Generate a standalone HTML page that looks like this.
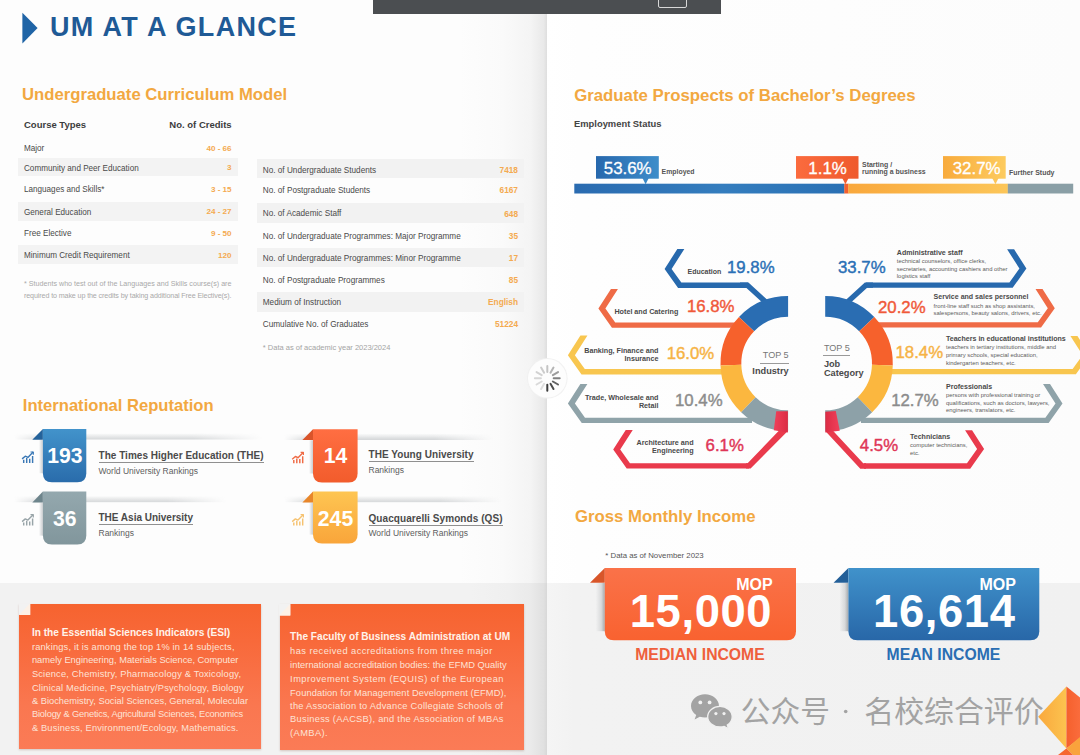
<!DOCTYPE html>
<html><head><meta charset="utf-8"><title>UM at a glance</title>
<style>
html,body{margin:0;padding:0;}
body{width:1080px;height:755px;overflow:hidden;position:relative;background:#fbfbfb;font-family:"Liberation Sans",sans-serif;}
.b{position:absolute;}
.t{position:absolute;white-space:nowrap;line-height:1;}
svg.s{position:absolute;left:0;top:0;}
#bg,#fg{position:absolute;left:0;top:0;width:1080px;height:755px;}
</style></head>
<body>
<div id="bg">
<div class="b" style="left:0.00px;top:0.00px;width:546.60px;height:755.00px;background:linear-gradient(to right,#fdfdfd 0%,#fdfdfd 84%,#fafafa 92%,#f4f4f4 97%,#e9e9e9 99.4%,#dedede 100%);"></div>
<div class="b" style="left:546.60px;top:0.00px;width:533.40px;height:755.00px;background:linear-gradient(to right,#ffffff 0%,#fefefe 6%,#fcfcfc 100%);"></div>
<div class="b" style="left:0.00px;top:582.70px;width:546.60px;height:172.30px;background:linear-gradient(to right,#f2f2f2 0%,#f2f2f2 86%,#efefef 93%,#eaeaea 97%,#e0e0e0 99.4%,#d8d8d8 100%);"></div>
<div class="b" style="left:546.60px;top:582.90px;width:533.40px;height:172.10px;background:linear-gradient(to right,#f5f5f5 0%,#f2f2f2 5%,#f1f1f1 100%);"></div>
<div class="b" style="left:373.00px;top:0.00px;width:348.00px;height:14.00px;background:#4b4e51;"></div>
<div class="b" style="left:657.50px;top:-2.00px;width:29.00px;height:9.50px;background:transparent;border:1px solid #d8d8d8;border-radius:2px;box-sizing:border-box;"></div>
<div class="b" style="left:18.00px;top:158.30px;width:220.00px;height:18.10px;background:#f3f3f3;"></div>
<div class="b" style="left:18.00px;top:202.00px;width:220.00px;height:19.00px;background:#f3f3f3;"></div>
<div class="b" style="left:18.00px;top:244.80px;width:220.00px;height:18.90px;background:#f3f3f3;"></div>
<div class="b" style="left:256.70px;top:158.90px;width:267.50px;height:19.10px;background:#f2f2f2;"></div>
<div class="b" style="left:256.70px;top:203.40px;width:267.50px;height:19.50px;background:#f2f2f2;"></div>
<div class="b" style="left:256.70px;top:248.00px;width:267.50px;height:19.20px;background:#f2f2f2;"></div>
<div class="b" style="left:256.70px;top:292.30px;width:267.50px;height:19.80px;background:#f2f2f2;"></div>
<div class="b" style="left:19.4px;top:603.8px;width:242px;height:145.6px;background:linear-gradient(#f6632f 0%,#f8693a 25%,#fa7750 70%,#fb7b56 100%);box-shadow:0 1px 2px rgba(120,60,40,.25);"></div>
<div class="b" style="left:279.5px;top:604.4px;width:244.3px;height:146px;background:linear-gradient(#f6632f 0%,#f8693a 25%,#fa7750 70%,#fb7b56 100%);box-shadow:0 1px 2px rgba(120,60,40,.25);"></div>
<div class="b" style="left:760.30px;top:362.80px;width:28.30px;height:0.90px;background:#9a9a9a;"></div>
<div class="b" style="left:823.30px;top:355.20px;width:27.20px;height:0.90px;background:#9a9a9a;"></div>
</div>
<svg class="s" width="1080" height="755" viewBox="0 0 1080 755">
<defs>
<linearGradient id="gBlue" x1="0" y1="0" x2="0" y2="1"><stop offset="0" stop-color="#4293cb"/><stop offset="1" stop-color="#2a6cab"/></linearGradient>
<linearGradient id="gGrey" x1="0" y1="0" x2="0" y2="1"><stop offset="0" stop-color="#94a8ae"/><stop offset="1" stop-color="#81969c"/></linearGradient>
<linearGradient id="gOrg" x1="0" y1="0" x2="0" y2="1"><stop offset="0" stop-color="#ff6e42"/><stop offset="1" stop-color="#f25c2c"/></linearGradient>
<linearGradient id="gYel" x1="0" y1="0" x2="0" y2="1"><stop offset="0" stop-color="#fec552"/><stop offset="1" stop-color="#f9a53a"/></linearGradient>
<linearGradient id="gShV" x1="0" y1="0" x2="0" y2="1"><stop offset="0" stop-color="#9aa0a4" stop-opacity="0"/><stop offset="1" stop-color="#9aa0a4" stop-opacity="0.42"/></linearGradient>
<linearGradient id="gShH" x1="0" y1="0" x2="1" y2="0"><stop offset="0" stop-color="#fff" stop-opacity="0"/><stop offset="0.12" stop-color="#fff"/><stop offset="0.72" stop-color="#fff"/><stop offset="1" stop-color="#fff" stop-opacity="0"/></linearGradient>
<mask id="mSh" maskContentUnits="objectBoundingBox"><rect x="0" y="0" width="1" height="1" fill="url(#gShH)"/></mask>
<linearGradient id="gSide" x1="0" y1="0" x2="1" y2="0"><stop offset="0" stop-color="#8a9096" stop-opacity="0"/><stop offset="1" stop-color="#8a9096" stop-opacity="0.45"/></linearGradient>

<linearGradient id="eBlue" x1="0" x2="1"><stop offset="0" stop-color="#2768ad"/><stop offset="1" stop-color="#3e8dca"/></linearGradient>
<linearGradient id="eOrg" x1="0" x2="1"><stop offset="0" stop-color="#fb6b3e"/><stop offset="1" stop-color="#ef5a2d"/></linearGradient>
<linearGradient id="eYel" x1="0" x2="1"><stop offset="0" stop-color="#f8ab3d"/><stop offset="1" stop-color="#fdcb5e"/></linearGradient>
<linearGradient id="barBlue" x1="0" x2="1"><stop offset="0" stop-color="#2a6bb0"/><stop offset="0.55" stop-color="#347dbe"/><stop offset="1" stop-color="#2a70b4"/></linearGradient>
<linearGradient id="barYel" x1="0" x2="1"><stop offset="0" stop-color="#f9a83c"/><stop offset="1" stop-color="#fcc659"/></linearGradient>
<linearGradient id="gRed0" x1="0" x2="1"><stop offset="0" stop-color="#f0405a"/><stop offset="1" stop-color="#dc2c45"/></linearGradient><linearGradient id="gRed2" x1="1" x2="0"><stop offset="0" stop-color="#f0405a"/><stop offset="1" stop-color="#dc2c45"/></linearGradient>
<linearGradient id="gSide2" x1="0" y1="0" x2="1" y2="0"><stop offset="0" stop-color="#80868c" stop-opacity="0"/><stop offset="0.6" stop-color="#80868c" stop-opacity="0.22"/><stop offset="1" stop-color="#70767c" stop-opacity="0.6"/></linearGradient>
<linearGradient id="iOrg" x1="0" y1="0" x2="0" y2="1"><stop offset="0" stop-color="#fa7249"/><stop offset="1" stop-color="#f96230"/></linearGradient>
<linearGradient id="iBlue" x1="0" y1="0" x2="0" y2="1"><stop offset="0" stop-color="#4092cb"/><stop offset="1" stop-color="#2867a8"/></linearGradient>

<linearGradient id="dYel" x1="0" x2="1"><stop offset="0" stop-color="#f9a83d"/><stop offset="1" stop-color="#fcc34f"/></linearGradient>
<linearGradient id="dOrg" x1="0" x2="1"><stop offset="0" stop-color="#f5602d"/><stop offset="1" stop-color="#fa6c3c"/></linearGradient>
</defs>
<polygon points="22.4,12.8 22.4,43.4 37.6,28.1" fill="#1f64a6"/>
<rect x="14" y="433.09999999999997" width="248" height="6.6" fill="url(#gShV)" mask="url(#mSh)"/>
<rect x="38.9" y="439.9" width="4" height="33.3" fill="url(#gSide)"/>
<polygon points="32.3,439.7 42.9,428.9 42.9,439.7" fill="#24629a"/>
<path d="M42.9,428.9H86.3V473.2Q86.3,482.2 77.3,482.2H51.9Q42.9,482.2 42.9,473.2Z" fill="url(#gBlue)"/>
<g transform="translate(21.5,451.29999999999995)" fill="none" stroke="#3a78b6" stroke-width="1.45" stroke-linecap="butt" stroke-linejoin="round"><path d="M2.2,11.6V8.4M5.2,11.6V6.8M8.2,11.6V7.4M11.1,11.6V4.6"/><path d="M0.6,7.6L3.8,4.9L6.4,6.1L11.6,0.8" stroke-width="1.4"/><path d="M9.0,0.7H11.8V3.4" stroke-width="1.2"/></g>
<rect x="14" y="495.8" width="212" height="6.6" fill="url(#gShV)" mask="url(#mSh)"/>
<rect x="38.9" y="502.6" width="4" height="33.0" fill="url(#gSide)"/>
<polygon points="32.3,502.40000000000003 42.9,491.6 42.9,502.40000000000003" fill="#6e858c"/>
<path d="M42.9,491.6H86.3V535.6Q86.3,544.6 77.3,544.6H51.9Q42.9,544.6 42.9,535.6Z" fill="url(#gGrey)"/>
<g transform="translate(21.5,514.0)" fill="none" stroke="#98a4a8" stroke-width="1.45" stroke-linecap="butt" stroke-linejoin="round"><path d="M2.2,11.6V8.4M5.2,11.6V6.8M8.2,11.6V7.4M11.1,11.6V4.6"/><path d="M0.6,7.6L3.8,4.9L6.4,6.1L11.6,0.8" stroke-width="1.4"/><path d="M9.0,0.7H11.8V3.4" stroke-width="1.2"/></g>
<rect x="284" y="433.4" width="209" height="6.6" fill="url(#gShV)" mask="url(#mSh)"/>
<rect x="309.0" y="440.2" width="4" height="33.3" fill="url(#gSide)"/>
<polygon points="302.4,440.0 313.0,429.2 313.0,440.0" fill="#d9542a"/>
<path d="M313.0,429.2H357.6V473.5Q357.6,482.5 348.6,482.5H322.0Q313.0,482.5 313.0,473.5Z" fill="url(#gOrg)"/>
<g transform="translate(291.6,451.59999999999997)" fill="none" stroke="#ef6a44" stroke-width="1.45" stroke-linecap="butt" stroke-linejoin="round"><path d="M2.2,11.6V8.4M5.2,11.6V6.8M8.2,11.6V7.4M11.1,11.6V4.6"/><path d="M0.6,7.6L3.8,4.9L6.4,6.1L11.6,0.8" stroke-width="1.4"/><path d="M9.0,0.7H11.8V3.4" stroke-width="1.2"/></g>
<rect x="284" y="495.8" width="217" height="6.6" fill="url(#gShV)" mask="url(#mSh)"/>
<rect x="309.0" y="502.6" width="4" height="32.0" fill="url(#gSide)"/>
<polygon points="302.4,502.40000000000003 313.0,491.6 313.0,502.40000000000003" fill="#e8862a"/>
<path d="M313.0,491.6H357.6V534.6Q357.6,543.6 348.6,543.6H322.0Q313.0,543.6 313.0,534.6Z" fill="url(#gYel)"/>
<g transform="translate(291.6,514.0)" fill="none" stroke="#f6c270" stroke-width="1.45" stroke-linecap="butt" stroke-linejoin="round"><path d="M2.2,11.6V8.4M5.2,11.6V6.8M8.2,11.6V7.4M11.1,11.6V4.6"/><path d="M0.6,7.6L3.8,4.9L6.4,6.1L11.6,0.8" stroke-width="1.4"/><path d="M9.0,0.7H11.8V3.4" stroke-width="1.2"/></g>
<rect x="18.9" y="603.3" width="11.3" height="11.6" fill="#f2f2f2"/>
<polygon points="30.2,603.3 30.2,614.9 18.9,614.9" fill="#fdf1e6"/>
<rect x="279.0" y="603.9" width="11.3" height="11.6" fill="#f2f2f2"/>
<polygon points="290.3,603.9 290.3,615.5 279.0,615.5" fill="#fdf1e6"/>
<rect x="574.3" y="183.7" width="270.2" height="9.8" fill="url(#barBlue)"/>
<rect x="844.3" y="183.7" width="4.2" height="9.8" fill="#f2602f"/>
<rect x="848.3" y="183.7" width="159.6" height="9.8" fill="url(#barYel)"/>
<rect x="1007.8" y="183.7" width="65.4" height="9.8" fill="#8a9fa6"/>
<polygon points="642.4,178 648.8000000000001,178 645.6,184.2" fill="#3a88c6"/>
<rect x="596" y="156.1" width="62.8" height="22.6" fill="url(#eBlue)"/>
<polygon points="842.1999999999999,178 848.6,178 845.4,184.2" fill="#f05c2e"/>
<rect x="796" y="156.1" width="62.5" height="22.6" fill="url(#eOrg)"/>
<polygon points="992.1999999999999,178 998.6,178 995.4,184.2" fill="#fcc558"/>
<rect x="943" y="156.1" width="62.7" height="22.6" fill="url(#eYel)"/>
<polygon points="677.34,249.00 664.60,268.90 678.09,287.90 748.00,287.90 748.00,282.60 681.33,282.60 671.60,268.90 684.34,249.00" fill="#2769ad"/>
<path d="M740,285.25L747.4,285.25L765.5,301.8" fill="none" stroke="#2769ad" stroke-width="5.3" stroke-linejoin="miter"/>
<polygon points="610.94,289.00 598.40,308.60 611.96,327.70 740.00,327.70 740.00,322.40 615.20,322.40 605.40,308.60 617.94,289.00" fill="#ef6b46"/>
<polygon points="580.44,335.60 567.90,355.20 581.53,374.40 724.00,374.40 724.00,369.10 584.77,369.10 574.90,355.20 587.44,335.60" fill="#f8c64f"/>
<polygon points="580.38,384.00 567.90,403.50 581.75,423.00 752.00,423.00 752.00,417.70 584.98,417.70 574.90,403.50 587.38,384.00" fill="#8fa3a9"/>
<polygon points="625.74,429.90 613.20,449.50 626.73,468.55 749.00,468.55 749.00,463.25 629.96,463.25 620.20,449.50 632.74,429.90" fill="#e93a4c"/>
<polygon points="747.6,463.25 778.6,431.0 787.8,431.0 750.6,468.55 746,468.55 746,463.25" fill="#e93a4c"/>
<polygon points="1014.11,249.30 1026.40,268.50 1012.66,287.85 866.00,287.85 866.00,282.55 1009.42,282.55 1019.40,268.50 1007.11,249.30" fill="#2769ad"/>
<path d="M873,285.2L865.9,285.2L847.8,301.8" fill="none" stroke="#2769ad" stroke-width="5.3" stroke-linejoin="miter"/>
<polygon points="1042.51,289.00 1054.80,308.20 1041.06,327.55 873.00,327.55 873.00,322.25 1037.82,322.25 1047.80,308.20 1035.51,289.00" fill="#ef6b46"/>
<polygon points="1077.44,336.00 1089.60,355.00 1075.86,374.35 889.00,374.35 889.00,369.05 1072.62,369.05 1082.60,355.00 1070.44,336.00" fill="#f8c64f"/>
<polygon points="1050.02,384.00 1062.50,403.50 1048.62,423.05 861.00,423.05 861.00,417.75 1045.38,417.75 1055.50,403.50 1043.02,384.00" fill="#8fa3a9"/>
<polygon points="972.07,430.30 984.10,449.10 970.22,468.65 864.00,468.65 864.00,463.35 966.98,463.35 977.10,449.10 965.07,430.30" fill="#e93a4c"/>
<polygon points="863.2,463.35 833.2,431.0 825.3,431.0 860.3,468.65 866,468.65 866,463.35" fill="#e93a4c"/>
<path d="M788.10,295.90A67.6,67.6 0 0 0 738.98,317.05L754.10,331.34A46.8,46.8 0 0 1 788.10,316.70Z" fill="#2a6db2"/>
<path d="M738.98,317.05A67.6,67.6 0 0 0 720.53,365.39L741.32,364.81A46.8,46.8 0 0 1 754.10,331.34Z" fill="#f6612c"/>
<path d="M720.53,365.39A67.6,67.6 0 0 0 741.14,412.13L755.59,397.17A46.8,46.8 0 0 1 741.32,364.81Z" fill="#fbb73f"/>
<path d="M741.14,412.13A67.6,67.6 0 0 0 788.10,431.10L788.10,410.30A46.8,46.8 0 0 1 755.59,397.17Z" fill="#8da1a8"/>
<polygon points="776.2,411.2 787.9,411.2 787.9,432.6 773.8,430.3" fill="url(#gRed0)"/>
<path d="M825.20,295.90A67.6,67.6 0 0 1 874.32,317.05L859.20,331.34A46.8,46.8 0 0 0 825.20,316.70Z" fill="#2a6db2"/>
<path d="M874.32,317.05A67.6,67.6 0 0 1 892.77,365.39L871.98,364.81A46.8,46.8 0 0 0 859.20,331.34Z" fill="#f6612c"/>
<path d="M892.77,365.39A67.6,67.6 0 0 1 872.16,412.13L857.71,397.17A46.8,46.8 0 0 0 871.98,364.81Z" fill="#fbb73f"/>
<path d="M872.16,412.13A67.6,67.6 0 0 1 825.20,431.10L825.20,410.30A46.8,46.8 0 0 0 857.71,397.17Z" fill="#8da1a8"/>
<polygon points="825.3,411.8 835.8,411.0 839.8,430.7 825.3,432.6" fill="url(#gRed2)"/>
<rect x="595.8" y="583" width="9" height="48.2" fill="url(#gSide2)"/>
<polygon points="590.0,582.8 604.8,568 604.8,582.8" fill="#d8562a"/>
<path d="M604.8,568H796.0V631.2Q796.0,640.2 787.0,640.2H613.8Q604.8,640.2 604.8,631.2Z" fill="url(#iOrg)"/>
<rect x="839.4" y="583" width="9" height="48.2" fill="url(#gSide2)"/>
<polygon points="833.6,582.8 848.4,568 848.4,582.8" fill="#235f98"/>
<path d="M848.4,568H1039.3V631.2Q1039.3,640.2 1030.3,640.2H857.4Q848.4,640.2 848.4,631.2Z" fill="url(#iBlue)"/>
<circle cx="547.3" cy="378.3" r="20.3" fill="#f1f1f1"/><circle cx="547.3" cy="378.3" r="19.3" fill="#fdfdfd"/>
<line x1="547.3" y1="371.90000000000003" x2="547.3" y2="365.90000000000003" stroke="#3c3c3c" stroke-width="2.0" stroke-linecap="round" transform="rotate(180 547.3 378.3)"/>
<line x1="547.3" y1="371.90000000000003" x2="547.3" y2="365.90000000000003" stroke="#4c4c4c" stroke-width="2.0" stroke-linecap="round" transform="rotate(150 547.3 378.3)"/>
<line x1="547.3" y1="371.90000000000003" x2="547.3" y2="365.90000000000003" stroke="#626262" stroke-width="2.0" stroke-linecap="round" transform="rotate(120 547.3 378.3)"/>
<line x1="547.3" y1="371.90000000000003" x2="547.3" y2="365.90000000000003" stroke="#808080" stroke-width="2.0" stroke-linecap="round" transform="rotate(90 547.3 378.3)"/>
<line x1="547.3" y1="371.90000000000003" x2="547.3" y2="365.90000000000003" stroke="#9c9c9c" stroke-width="2.0" stroke-linecap="round" transform="rotate(60 547.3 378.3)"/>
<line x1="547.3" y1="371.90000000000003" x2="547.3" y2="365.90000000000003" stroke="#b4b4b4" stroke-width="2.0" stroke-linecap="round" transform="rotate(30 547.3 378.3)"/>
<line x1="547.3" y1="371.90000000000003" x2="547.3" y2="365.90000000000003" stroke="#c4c4c4" stroke-width="2.0" stroke-linecap="round" transform="rotate(0 547.3 378.3)"/>
<line x1="547.3" y1="371.90000000000003" x2="547.3" y2="365.90000000000003" stroke="#cccccc" stroke-width="2.0" stroke-linecap="round" transform="rotate(-30 547.3 378.3)"/>
<line x1="547.3" y1="371.90000000000003" x2="547.3" y2="365.90000000000003" stroke="#d2d2d2" stroke-width="2.0" stroke-linecap="round" transform="rotate(-60 547.3 378.3)"/>
<line x1="547.3" y1="371.90000000000003" x2="547.3" y2="365.90000000000003" stroke="#d6d6d6" stroke-width="2.0" stroke-linecap="round" transform="rotate(-90 547.3 378.3)"/>
<line x1="547.3" y1="371.90000000000003" x2="547.3" y2="365.90000000000003" stroke="#dadada" stroke-width="2.0" stroke-linecap="round" transform="rotate(-120 547.3 378.3)"/>
<line x1="547.3" y1="371.90000000000003" x2="547.3" y2="365.90000000000003" stroke="#dedede" stroke-width="2.0" stroke-linecap="round" transform="rotate(-150 547.3 378.3)"/>
<polygon points="1038.2,716.8 1066.4,686.6 1066.4,748.5" fill="url(#dYel)"/>
<polygon points="1066.4,686.6 1080,697.5 1080,738 1066.4,748.5" fill="url(#dOrg)"/>
<polygon points="1066.4,748.5 1080,737 1080,755 1073,755" fill="#f9a33c"/>
<polygon points="1066.4,748.5 1073,755 1058,755" fill="#f6672f"/>
<text x="740.8" y="722.4" font-size="29.7" fill="#a3a3a3" textLength="89.1" lengthAdjust="spacingAndGlyphs" style="font-family:'Liberation Sans','Noto Sans CJK SC',sans-serif;">公众号</text>
<circle cx="845.7" cy="711.5" r="1.8" fill="#a3a3a3"/>
<text x="864.3" y="722.4" font-size="29.7" fill="#a3a3a3" textLength="179.3" lengthAdjust="spacingAndGlyphs" style="font-family:'Liberation Sans','Noto Sans CJK SC',sans-serif;">名校综合评价</text>
<path d="M705,694.3c-7.8,0 -14,5.2 -14,11.7c0,3.7 2,6.9 5.2,9.1l-1.6,4.4l5.2,-2.7c1.6,0.5 3.3,0.8 5.2,0.8c7.8,0 14,-5.2 14,-11.6c0,-6.5 -6.2,-11.7 -14,-11.7z" fill="#a3a3a3"/>
<circle cx="700.3" cy="702.4" r="1.9" fill="#f1f1f1"/><circle cx="709.6" cy="702.4" r="1.9" fill="#f1f1f1"/>
<path d="M720,706.4c-6.8,0 -12.3,4.6 -12.3,10.3c0,5.7 5.5,10.3 12.3,10.3c1.5,0 2.9,-0.2 4.2,-0.6l4.4,2.4l-1.3,-3.8c2.9,-1.9 4.9,-4.9 4.9,-8.3c0,-5.7 -5.5,-10.3 -12.2,-10.3z" fill="#a3a3a3" stroke="#f1f1f1" stroke-width="1.3"/>
<circle cx="715.9" cy="713.6" r="1.6" fill="#f1f1f1"/><circle cx="724" cy="713.6" r="1.6" fill="#f1f1f1"/>
</svg>
<div id="fg">
<div class="t" style="top:14.40px;font-size:27px;color:#1f5a96;font-weight:bold;letter-spacing:1.32px;left:50.00px;">UM AT A GLANCE</div>
<div class="t" style="top:87.25px;font-size:16.7px;color:#f2a841;font-weight:bold;left:22.00px;">Undergraduate Curriculum Model</div>
<div class="t" style="top:120.05px;font-size:9.5px;color:#3c3c3c;font-weight:bold;left:24.00px;">Course Types</div>
<div class="t" style="top:120.05px;font-size:9.5px;color:#3c3c3c;font-weight:bold;right:848.40px;">No. of Credits</div>
<div class="t" style="top:144.93px;font-size:8.15px;color:#4a4a4a;left:24.00px;">Major</div>
<div class="t" style="top:144.55px;font-size:8.1px;color:#f4aa50;font-weight:bold;right:848.40px;">40 - 66</div>
<div class="t" style="top:164.53px;font-size:8.15px;color:#4a4a4a;left:24.00px;">Community and Peer Education</div>
<div class="t" style="top:164.15px;font-size:8.1px;color:#f4aa50;font-weight:bold;right:848.40px;">3</div>
<div class="t" style="top:186.12px;font-size:8.15px;color:#4a4a4a;left:24.00px;">Languages and Skills*</div>
<div class="t" style="top:185.75px;font-size:8.1px;color:#f4aa50;font-weight:bold;right:848.40px;">3 - 15</div>
<div class="t" style="top:208.53px;font-size:8.15px;color:#4a4a4a;left:24.00px;">General Education</div>
<div class="t" style="top:208.15px;font-size:8.1px;color:#f4aa50;font-weight:bold;right:848.40px;">24 - 27</div>
<div class="t" style="top:230.33px;font-size:8.15px;color:#4a4a4a;left:24.00px;">Free Elective</div>
<div class="t" style="top:229.95px;font-size:8.1px;color:#f4aa50;font-weight:bold;right:848.40px;">9 - 50</div>
<div class="t" style="top:252.23px;font-size:8.15px;color:#4a4a4a;left:24.00px;">Minimum Credit Requirement</div>
<div class="t" style="top:251.85px;font-size:8.1px;color:#f4aa50;font-weight:bold;right:848.40px;">120</div>
<div class="t" style="top:281.32px;font-size:7.15px;color:#a9a9a9;letter-spacing:0.004px;left:24.00px;">* Students who test out of the Languages and Skills course(s) are</div>
<div class="t" style="top:292.53px;font-size:7.15px;color:#a9a9a9;letter-spacing:-0.117px;left:24.00px;">required to make up the credits by taking additional Free Elective(s).</div>
<div class="t" style="top:166.60px;font-size:8.2px;color:#4a4a4a;left:262.80px;">No. of Undergraduate Students</div>
<div class="t" style="top:165.95px;font-size:8.3px;color:#f4aa50;font-weight:bold;right:562.00px;">7418</div>
<div class="t" style="top:186.50px;font-size:8.2px;color:#4a4a4a;left:262.80px;">No. of Postgraduate Students</div>
<div class="t" style="top:185.85px;font-size:8.3px;color:#f4aa50;font-weight:bold;right:562.00px;">6167</div>
<div class="t" style="top:210.30px;font-size:8.2px;color:#4a4a4a;left:262.80px;">No. of Academic Staff</div>
<div class="t" style="top:209.65px;font-size:8.3px;color:#f4aa50;font-weight:bold;right:562.00px;">648</div>
<div class="t" style="top:232.70px;font-size:8.2px;color:#4a4a4a;left:262.80px;">No. of Undergraduate Programmes: Major Programme</div>
<div class="t" style="top:232.05px;font-size:8.3px;color:#f4aa50;font-weight:bold;right:562.00px;">35</div>
<div class="t" style="top:254.80px;font-size:8.2px;color:#4a4a4a;left:262.80px;">No. of Undergraduate Programmes: Minor Programme</div>
<div class="t" style="top:254.15px;font-size:8.3px;color:#f4aa50;font-weight:bold;right:562.00px;">17</div>
<div class="t" style="top:276.90px;font-size:8.2px;color:#4a4a4a;left:262.80px;">No. of Postgraduate Programmes</div>
<div class="t" style="top:276.25px;font-size:8.3px;color:#f4aa50;font-weight:bold;right:562.00px;">85</div>
<div class="t" style="top:298.90px;font-size:8.2px;color:#4a4a4a;left:262.80px;">Medium of Instruction</div>
<div class="t" style="top:298.25px;font-size:8.3px;color:#f4aa50;font-weight:bold;right:562.00px;">English</div>
<div class="t" style="top:321.10px;font-size:8.2px;color:#4a4a4a;left:262.80px;">Cumulative No. of Graduates</div>
<div class="t" style="top:320.45px;font-size:8.3px;color:#f4aa50;font-weight:bold;right:562.00px;">51224</div>
<div class="t" style="top:343.75px;font-size:7.5px;color:#a4a4a4;left:262.80px;">* Data as of academic year 2023/2024</div>
<div class="t" style="top:397.60px;font-size:16.6px;color:#f2a841;font-weight:bold;left:22.80px;">International Reputation</div>
<div class="t" style="top:445.10px;font-size:21.2px;color:#fff;font-weight:bold;left:-235.20px;width:600px;text-align:center;">193</div>
<div class="t" style="top:451.20px;font-size:10.0px;color:#4a4a4a;font-weight:bold;letter-spacing:0.023px;left:98.50px;border-bottom:1px solid #909090;padding-bottom:1.2px;">The Times Higher Education (THE)</div>
<div class="t" style="top:466.85px;font-size:8.5px;color:#5e5e5e;left:98.50px;">World University Rankings</div>
<div class="t" style="top:507.80px;font-size:21.2px;color:#fff;font-weight:bold;left:-235.20px;width:600px;text-align:center;">36</div>
<div class="t" style="top:513.20px;font-size:10.0px;color:#4a4a4a;font-weight:bold;letter-spacing:-0.009px;left:98.50px;border-bottom:1px solid #909090;padding-bottom:1.2px;">THE Asia University</div>
<div class="t" style="top:528.75px;font-size:8.5px;color:#5e5e5e;left:98.50px;">Rankings</div>
<div class="t" style="top:445.40px;font-size:21.2px;color:#fff;font-weight:bold;left:35.50px;width:600px;text-align:center;">14</div>
<div class="t" style="top:449.70px;font-size:10.0px;color:#4a4a4a;font-weight:bold;letter-spacing:0.048px;left:368.50px;border-bottom:1px solid #909090;padding-bottom:1.2px;">THE Young University</div>
<div class="t" style="top:465.55px;font-size:8.5px;color:#5e5e5e;left:368.50px;">Rankings</div>
<div class="t" style="top:507.80px;font-size:21.2px;color:#fff;font-weight:bold;left:35.50px;width:600px;text-align:center;">245</div>
<div class="t" style="top:514.00px;font-size:10.0px;color:#4a4a4a;font-weight:bold;letter-spacing:0.073px;left:368.50px;border-bottom:1px solid #909090;padding-bottom:1.2px;">Quacquarelli Symonds (QS)</div>
<div class="t" style="top:529.45px;font-size:8.5px;color:#5e5e5e;left:368.50px;">World University Rankings</div>
<div class="t" style="top:628.42px;font-size:10.15px;color:#fff3ea;font-weight:bold;letter-spacing:0.006px;left:31.90px;">In the Essential Sciences Indicators (ESI)</div>
<div class="t" style="top:642.55px;font-size:9.3px;color:#fde3d6;letter-spacing:0.177px;left:31.90px;">rankings, it is among the top 1% in 14 subjects,</div>
<div class="t" style="top:656.45px;font-size:9.3px;color:#fde3d6;letter-spacing:-0.004px;left:31.90px;">namely Engineering, Materials Science, Computer</div>
<div class="t" style="top:670.15px;font-size:9.3px;color:#fde3d6;letter-spacing:0.192px;left:31.90px;">Science, Chemistry, Pharmacology &amp; Toxicology,</div>
<div class="t" style="top:683.75px;font-size:9.3px;color:#fde3d6;letter-spacing:0.184px;left:31.90px;">Clinical Medicine, Psychiatry/Psychology, Biology</div>
<div class="t" style="top:696.95px;font-size:9.3px;color:#fde3d6;letter-spacing:0.006px;left:31.90px;">&amp; Biochemistry, Social Sciences, General, Molecular</div>
<div class="t" style="top:710.35px;font-size:9.3px;color:#fde3d6;letter-spacing:-0.185px;left:31.90px;">Biology &amp; Genetics, Agricultural Sciences, Economics</div>
<div class="t" style="top:723.85px;font-size:9.3px;color:#fde3d6;letter-spacing:0.165px;left:31.90px;">&amp; Business, Environment/Ecology, Mathematics.</div>
<div class="t" style="top:632.35px;font-size:10.1px;color:#fff3ea;font-weight:bold;letter-spacing:0.001px;left:290.10px;">The Faculty of Business Administration at UM</div>
<div class="t" style="top:647.05px;font-size:9.3px;color:#fde3d6;letter-spacing:0.435px;left:290.10px;">has received accreditations from three major</div>
<div class="t" style="top:660.95px;font-size:9.3px;color:#fde3d6;letter-spacing:0.043px;left:290.10px;">international accreditation bodies: the EFMD Quality</div>
<div class="t" style="top:674.65px;font-size:9.3px;color:#fde3d6;letter-spacing:0.467px;left:290.10px;">Improvement System (EQUIS) of the European</div>
<div class="t" style="top:688.65px;font-size:9.3px;color:#fde3d6;letter-spacing:0.097px;left:290.10px;">Foundation for Management Development (EFMD),</div>
<div class="t" style="top:702.05px;font-size:9.3px;color:#fde3d6;letter-spacing:0.251px;left:290.10px;">the Association to Advance Collegiate Schools of</div>
<div class="t" style="top:715.45px;font-size:9.3px;color:#fde3d6;letter-spacing:0.27px;left:290.10px;">Business (AACSB), and the Association of MBAs</div>
<div class="t" style="top:728.95px;font-size:9.3px;color:#fde3d6;letter-spacing:0.411px;left:290.10px;">(AMBA).</div>
<div class="t" style="top:87.60px;font-size:16.8px;color:#f2a841;font-weight:bold;left:574.20px;">Graduate Prospects of Bachelor’s Degrees</div>
<div class="t" style="top:118.70px;font-size:9.4px;color:#444;font-weight:bold;left:574.00px;">Employment Status</div>
<div class="t" style="top:160.55px;font-size:16.9px;color:#fff;left:327.70px;width:600px;text-align:center;-webkit-text-stroke:0.3px #fff;">53.6%</div>
<div class="t" style="top:160.55px;font-size:16.9px;color:#fff;left:527.55px;width:600px;text-align:center;-webkit-text-stroke:0.3px #fff;">1.1%</div>
<div class="t" style="top:160.55px;font-size:16.9px;color:#fff;left:676.65px;width:600px;text-align:center;-webkit-text-stroke:0.3px #fff;">32.7%</div>
<div class="t" style="top:169.45px;font-size:6.9px;color:#555;font-weight:bold;left:661.60px;">Employed</div>
<div class="t" style="top:161.62px;font-size:6.95px;color:#555;font-weight:bold;left:862.00px;">Starting /</div>
<div class="t" style="top:169.43px;font-size:6.95px;color:#555;font-weight:bold;left:862.00px;">running a business</div>
<div class="t" style="top:169.83px;font-size:6.95px;color:#555;font-weight:bold;left:1009.00px;">Further Study</div>
<div class="t" style="top:267.50px;font-size:7.0px;color:#4a4a4a;font-weight:bold;right:358.70px;">Education</div>
<div class="t" style="top:260.00px;font-size:16.8px;color:#2a70b6;left:727.00px;-webkit-text-stroke:0.42px #2a70b6;">19.8%</div>
<div class="t" style="top:307.80px;font-size:7.2px;color:#4a4a4a;font-weight:bold;right:401.70px;">Hotel and Catering</div>
<div class="t" style="top:299.40px;font-size:16.8px;color:#f0593a;left:686.90px;-webkit-text-stroke:0.42px #f0593a;">16.8%</div>
<div class="t" style="top:347.00px;font-size:7.2px;color:#4a4a4a;font-weight:bold;right:421.50px;">Banking, Finance and</div>
<div class="t" style="top:355.00px;font-size:7.2px;color:#4a4a4a;font-weight:bold;right:421.50px;">Insurance</div>
<div class="t" style="top:345.80px;font-size:16.8px;color:#f6b345;left:666.70px;-webkit-text-stroke:0.42px #f6b345;">16.0%</div>
<div class="t" style="top:393.70px;font-size:7.2px;color:#4a4a4a;font-weight:bold;right:421.50px;">Trade, Wholesale and</div>
<div class="t" style="top:401.70px;font-size:7.2px;color:#4a4a4a;font-weight:bold;right:421.50px;">Retail</div>
<div class="t" style="top:393.20px;font-size:16.8px;color:#8c8c8c;left:675.00px;-webkit-text-stroke:0.42px #8c8c8c;">10.4%</div>
<div class="t" style="top:439.10px;font-size:7.2px;color:#4a4a4a;font-weight:bold;right:386.40px;">Architecture and</div>
<div class="t" style="top:447.10px;font-size:7.2px;color:#4a4a4a;font-weight:bold;right:386.40px;">Engineering</div>
<div class="t" style="top:437.90px;font-size:16.8px;color:#df3657;left:705.60px;-webkit-text-stroke:0.42px #df3657;">6.1%</div>
<div class="t" style="top:350.68px;font-size:9.05px;color:#777;right:291.40px;">TOP 5</div>
<div class="t" style="top:366.50px;font-size:9.2px;color:#4a4a4a;font-weight:bold;right:291.40px;">Industry</div>
<div class="t" style="top:260.00px;font-size:16.8px;color:#2a70b6;left:838.00px;-webkit-text-stroke:0.42px #2a70b6;">33.7%</div>
<div class="t" style="top:249.07px;font-size:7.05px;color:#4a4a4a;font-weight:bold;left:896.80px;">Administrative staff</div>
<div class="t" style="top:259.15px;font-size:5.9px;color:#5c5c5c;left:896.80px;">technical counselors, office clerks,</div>
<div class="t" style="top:266.75px;font-size:5.9px;color:#5c5c5c;left:896.80px;">secretaries, accounting cashiers and other</div>
<div class="t" style="top:274.45px;font-size:5.9px;color:#5c5c5c;left:896.80px;">logistics staff</div>
<div class="t" style="top:299.80px;font-size:16.8px;color:#f0593a;left:878.00px;-webkit-text-stroke:0.42px #f0593a;">20.2%</div>
<div class="t" style="top:293.48px;font-size:7.05px;color:#4a4a4a;font-weight:bold;left:933.60px;">Service and sales personnel</div>
<div class="t" style="top:303.55px;font-size:5.9px;color:#5c5c5c;left:933.60px;">front-line staff such as shop assistants,</div>
<div class="t" style="top:311.25px;font-size:5.9px;color:#5c5c5c;left:933.60px;">salespersons, beauty salons, drivers, etc.</div>
<div class="t" style="top:345.20px;font-size:16.8px;color:#f6b345;left:895.50px;-webkit-text-stroke:0.42px #f6b345;">18.4%</div>
<div class="t" style="top:335.38px;font-size:7.05px;color:#4a4a4a;font-weight:bold;left:946.00px;">Teachers in educational institutions</div>
<div class="t" style="top:344.95px;font-size:5.9px;color:#5c5c5c;left:946.00px;">teachers in tertiary institutions, middle and</div>
<div class="t" style="top:352.85px;font-size:5.9px;color:#5c5c5c;left:946.00px;">primary schools, special education,</div>
<div class="t" style="top:360.75px;font-size:5.9px;color:#5c5c5c;left:946.00px;">kindergarten teachers, etc.</div>
<div class="t" style="top:393.20px;font-size:16.8px;color:#8c8c8c;left:891.20px;-webkit-text-stroke:0.42px #8c8c8c;">12.7%</div>
<div class="t" style="top:382.98px;font-size:7.05px;color:#4a4a4a;font-weight:bold;left:946.00px;">Professionals</div>
<div class="t" style="top:392.55px;font-size:5.9px;color:#5c5c5c;left:946.00px;">persons with professional training or</div>
<div class="t" style="top:400.55px;font-size:5.9px;color:#5c5c5c;left:946.00px;">qualifications, such as doctors, lawyers,</div>
<div class="t" style="top:408.45px;font-size:5.9px;color:#5c5c5c;left:946.00px;">engineers, translators, etc.</div>
<div class="t" style="top:437.90px;font-size:16.8px;color:#df3657;left:859.80px;-webkit-text-stroke:0.42px #df3657;">4.5%</div>
<div class="t" style="top:433.08px;font-size:7.05px;color:#4a4a4a;font-weight:bold;left:910.00px;">Technicians</div>
<div class="t" style="top:442.65px;font-size:5.9px;color:#5c5c5c;left:910.00px;">computer technicians,</div>
<div class="t" style="top:450.55px;font-size:5.9px;color:#5c5c5c;left:910.00px;">etc.</div>
<div class="t" style="top:343.68px;font-size:9.05px;color:#777;left:823.90px;">TOP 5</div>
<div class="t" style="top:359.60px;font-size:9.2px;color:#4a4a4a;font-weight:bold;left:823.90px;">Job</div>
<div class="t" style="top:369.10px;font-size:9.2px;color:#4a4a4a;font-weight:bold;left:823.90px;">Category</div>
<div class="t" style="top:508.62px;font-size:16.75px;color:#f2a841;font-weight:bold;left:575.00px;">Gross Monthly Income</div>
<div class="t" style="top:552.10px;font-size:7.8px;color:#555;left:605.30px;">* Data as of November 2023</div>
<div class="t" style="top:576.90px;font-size:16.0px;color:#fff;font-weight:bold;right:307.40px;">MOP</div>
<div class="t" style="top:588.70px;font-size:45.4px;color:#fff;font-weight:bold;letter-spacing:0.6px;right:307.80px;">15,000</div>
<div class="t" style="top:646.83px;font-size:15.75px;color:#ef5f3c;font-weight:bold;left:400.00px;width:600px;text-align:center;">MEDIAN INCOME</div>
<div class="t" style="top:576.90px;font-size:16.0px;color:#fff;font-weight:bold;right:64.10px;">MOP</div>
<div class="t" style="top:588.70px;font-size:45.4px;color:#fff;font-weight:bold;letter-spacing:0.6px;right:64.50px;">16,614</div>
<div class="t" style="top:646.83px;font-size:15.75px;color:#2a6eb3;font-weight:bold;left:643.45px;width:600px;text-align:center;">MEAN INCOME</div>
</div>
</body></html>
